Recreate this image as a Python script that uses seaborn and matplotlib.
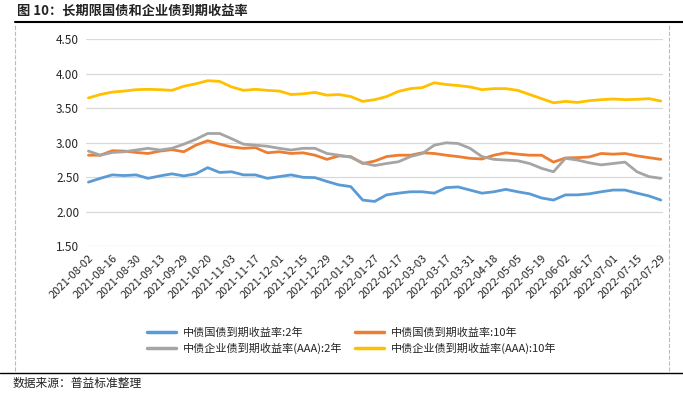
import numpy as np
import pandas as pd
import matplotlib.pyplot as plt
import seaborn as sns
from matplotlib.lines import Line2D

# tick labels (every 10 trading days)
tick_labels = ["2021-08-02", "2021-08-16", "2021-08-30", "2021-09-13", "2021-09-29",
               "2021-10-20", "2021-11-03", "2021-11-17", "2021-12-01", "2021-12-15",
               "2021-12-29", "2022-01-13", "2022-01-27", "2022-02-17", "2022-03-03",
               "2022-03-17", "2022-03-31", "2022-04-18", "2022-05-05", "2022-05-19",
               "2022-06-02", "2022-06-17", "2022-07-01", "2022-07-15", "2022-07-29"]

# trading-day index of the readings (every 5 days)
day = list(range(0, 241, 5))

gov_2y = [2.43, 2.485, 2.535, 2.525, 2.535, 2.485, 2.52, 2.55, 2.52, 2.55,
          2.64, 2.57, 2.58, 2.535, 2.535, 2.485, 2.51, 2.535, 2.50, 2.495,
          2.44, 2.39, 2.365, 2.17, 2.15, 2.245, 2.27, 2.29, 2.29, 2.27,
          2.35, 2.36, 2.315, 2.27, 2.29, 2.325, 2.29, 2.26, 2.20, 2.17,
          2.245, 2.245, 2.26, 2.29, 2.315, 2.315, 2.27, 2.23, 2.17]

gov_10y = [2.82, 2.82, 2.885, 2.88, 2.86, 2.845, 2.88, 2.90, 2.87, 2.965,
           3.03, 2.98, 2.94, 2.92, 2.93, 2.855, 2.87, 2.845, 2.855, 2.82,
           2.76, 2.81, 2.80, 2.70, 2.735, 2.80, 2.82, 2.82, 2.855, 2.845,
           2.82, 2.80, 2.775, 2.765, 2.82, 2.855, 2.835, 2.82, 2.82, 2.72,
           2.78, 2.785, 2.795, 2.845, 2.835, 2.845, 2.81, 2.785, 2.76]

corp_2y = [2.88, 2.82, 2.86, 2.87, 2.895, 2.92, 2.895, 2.92, 2.98, 3.05,
           3.135, 3.135, 3.06, 2.98, 2.965, 2.95, 2.92, 2.895, 2.92, 2.92,
           2.845, 2.82, 2.79, 2.71, 2.67, 2.70, 2.725, 2.80, 2.845, 2.965,
           3.00, 2.99, 2.92, 2.80, 2.76, 2.75, 2.74, 2.70, 2.63, 2.58,
           2.775, 2.75, 2.71, 2.68, 2.70, 2.72, 2.58, 2.51, 2.485]

corp_10y = [3.65, 3.70, 3.735, 3.75, 3.77, 3.775, 3.77, 3.76, 3.82, 3.855,
            3.90, 3.89, 3.81, 3.76, 3.775, 3.76, 3.75, 3.70, 3.71, 3.73,
            3.69, 3.70, 3.67, 3.60, 3.625, 3.67, 3.745, 3.785, 3.80, 3.87,
            3.845, 3.83, 3.81, 3.77, 3.785, 3.785, 3.76, 3.70, 3.64, 3.58,
            3.60, 3.585, 3.61, 3.625, 3.635, 3.625, 3.63, 3.64, 3.605]

names = ["中债国债到期收益率:2年", "中债企业债到期收益率(AAA):2年",
         "中债国债到期收益率:10年", "中债企业债到期收益率(AAA):10年"]
colors = ["#5B9BD5", "#A5A5A5", "#ED7D31", "#FFC000"]
series = [gov_2y, corp_2y, gov_10y, corp_10y]

sns.set_style("white")
plt.rcParams['font.family'] = ['Noto Sans CJK SC', 'DejaVu Sans']

fig = plt.figure(figsize=(6.83, 3.95), dpi=100)
ax = fig.add_axes([0.126, 0.3765, 0.845, 0.524])

# draw order: blue, orange, gray, yellow
for k in [0, 2, 1, 3]:
    sns.lineplot(x=day, y=series[k], ax=ax, color=colors[k], linewidth=2.0,
                 label=names[k], legend=False)

ax.set_ylim(1.5, 4.5)
ax.set_xlim(-1, 241)
ax.set_yticks(np.arange(1.5, 4.51, 0.5))
ax.set_yticklabels([f"{v:.2f}" for v in np.arange(1.5, 4.51, 0.5)], fontsize=8.5)
ax.set_xticks(range(0, 241, 10))
ax.set_xticklabels(tick_labels, rotation=45, ha='right', rotation_mode='anchor', fontsize=8)
ax.tick_params(axis='both', length=0, pad=5)
ax.yaxis.grid(True, color='#D9D9D9', linewidth=0.9)
for s in ax.spines.values():
    s.set_visible(False)

handles = [Line2D([0], [0], color=c, linewidth=2.5) for c in colors]
fig.legend(handles, names, loc='center', bbox_to_anchor=(0.515, 0.137), ncol=2,
           frameon=False, fontsize=8, handlelength=2.6, handletextpad=0.6,
           columnspacing=1.2, labelspacing=0.45)

# title, rules and source note
fig.text(0.025, 0.972, "图 10：长期限国债和企业债到期收益率", fontsize=9.5,
         fontweight='bold', va='center', ha='left', color='#222222')
fig.add_artist(Line2D([0.022, 1.0], [0.944, 0.944], color='black', linewidth=1.5))
fig.add_artist(Line2D([0.0, 1.0], [0.056, 0.056], color='black', linewidth=1.0))
fig.add_artist(Line2D([0.022, 0.022], [0.06, 0.94], color='#BBBBBB', linewidth=0.8, linestyle='--'))
fig.add_artist(Line2D([0.979, 0.979], [0.06, 0.94], color='#BBBBBB', linewidth=0.8, linestyle='--'))
fig.text(0.018, 0.03, "数据来源：普益标准整理", fontsize=8.5, va='center', ha='left', color='#222222')

fig.savefig("out.png", dpi=100)
